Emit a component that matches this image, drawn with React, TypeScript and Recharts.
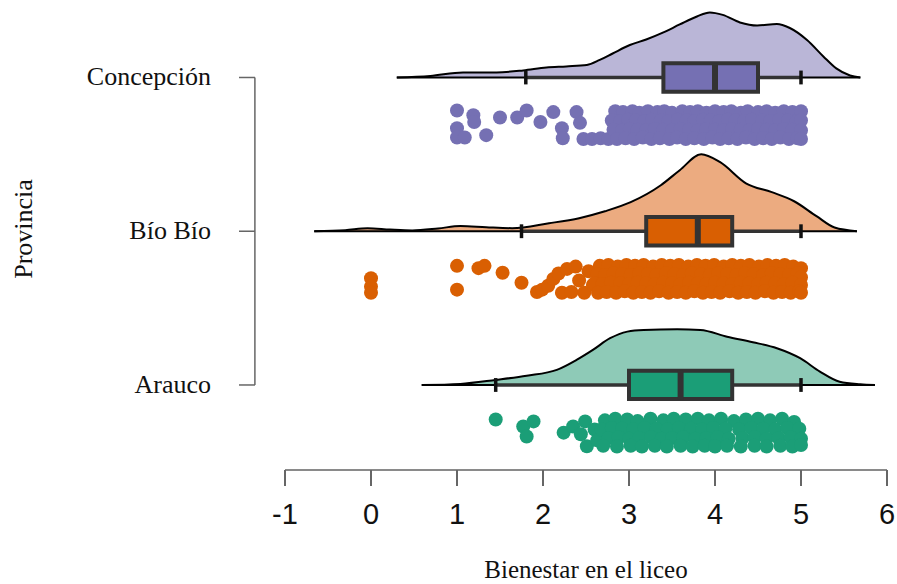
import {
  Area,
  ComposedChart,
  ReferenceArea,
  ReferenceLine,
  Scatter,
  XAxis,
  YAxis,
} from "recharts";

// y positions: Arauco = 1, Bío Bío = 2, Concepción = 3
const PROVINCES = ["Arauco", "Bío Bío", "Concepción"];
const X_TICKS = [-1, 0, 1, 2, 3, 4, 5, 6];

// half-violin outline: [bienestar, height above the group line]
const CONC_DENSITY = [
  [0.3, 0], [0.69, 0.01], [1.07, 0.033], [1.46, 0.033], [1.77, 0.046],
  [2.04, 0.065], [2.27, 0.072], [2.51, 0.081], [2.66, 0.114], [2.81, 0.156],
  [3.01, 0.211], [3.2, 0.247], [3.4, 0.293], [3.59, 0.345], [3.79, 0.397],
  [3.94, 0.423], [4.09, 0.407], [4.29, 0.358], [4.49, 0.338], [4.72, 0.348],
  [4.87, 0.322], [5.07, 0.244], [5.26, 0.137], [5.41, 0.059], [5.57, 0.013],
  [5.69, 0],
];
const BIOBIO_DENSITY = [
  [-0.66, 0], [-0.3, 0.007], [-0.04, 0.02], [0.22, 0.011], [0.48, 0.005],
  [0.78, 0.018], [1.04, 0.034], [1.34, 0.026], [1.64, 0.02], [2.07, 0.052],
  [2.42, 0.085], [2.72, 0.13], [3.02, 0.189], [3.37, 0.299], [3.59, 0.397],
  [3.84, 0.501], [4.06, 0.449], [4.36, 0.312], [4.66, 0.254], [4.92, 0.195],
  [5.18, 0.098], [5.39, 0.024], [5.65, 0],
];
const ARAUCO_DENSITY = [
  [0.59, 0], [1.04, 0.007], [1.45, 0.033], [1.81, 0.06], [2.16, 0.098],
  [2.39, 0.163], [2.58, 0.228], [2.78, 0.304], [2.98, 0.347], [3.17, 0.358],
  [3.56, 0.362], [3.83, 0.358], [4.14, 0.314], [4.44, 0.278], [4.72, 0.239],
  [4.99, 0.174], [5.22, 0.087], [5.45, 0.021], [5.69, 0.005], [5.86, 0],
];

// [low whisker, Q1, median, Q3, high whisker]
const CONC_BOX = [1.8, 3.4, 4.0, 4.5, 5.0];
const BIOBIO_BOX = [1.75, 3.2, 3.8, 4.2, 5.0];
const ARAUCO_BOX = [1.45, 3.0, 3.6, 4.2, 5.0];

// raw scores with their vertical jitter (positive = lower)
const CONC_POINTS = [
  [1.0, -0.095], [1.0, 0.02], [1.0, 0.08], [1.09, 0.08], [1.19, -0.065], [1.2, -0.02],
  [1.34, 0.065], [1.5, -0.05], [1.7, -0.05], [1.81, -0.095], [1.97, -0.02], [2.12, -0.085],
  [2.22, 0.02], [2.23, 0.085], [2.39, -0.085], [2.43, -0.015], [2.47, 0.09], [2.57, 0.09],
  [2.67, 0.085], [2.76, 0.09],
  [2.84, -0.09], [2.93, -0.085], [3.04, -0.09], [3.12, -0.08], [3.22, -0.09], [3.33, -0.085],
  [3.41, -0.09], [3.5, -0.08], [3.62, -0.09], [3.71, -0.085], [3.8, -0.09], [3.9, -0.08],
  [4.0, -0.09], [4.1, -0.085], [4.19, -0.09], [4.3, -0.08], [4.38, -0.09], [4.5, -0.085],
  [4.6, -0.09], [4.7, -0.08], [4.8, -0.09], [4.9, -0.085], [5.0, -0.09],
  [2.8, -0.03], [2.9, -0.025], [2.99, -0.035], [3.08, -0.03], [3.18, -0.025], [3.27, -0.035],
  [3.37, -0.03], [3.46, -0.025], [3.57, -0.035], [3.67, -0.03], [3.76, -0.025], [3.86, -0.035],
  [3.95, -0.03], [4.05, -0.025], [4.15, -0.035], [4.24, -0.03], [4.34, -0.025], [4.43, -0.035],
  [4.55, -0.03], [4.64, -0.025], [4.75, -0.035], [4.85, -0.03], [4.95, -0.025], [5.0, -0.03],
  [2.82, 0.03], [2.92, 0.035], [3.01, 0.025], [3.1, 0.03], [3.2, 0.035], [3.3, 0.025],
  [3.4, 0.03], [3.5, 0.035], [3.6, 0.025], [3.7, 0.03], [3.8, 0.035], [3.9, 0.025],
  [4.0, 0.03], [4.1, 0.035], [4.2, 0.025], [4.3, 0.03], [4.4, 0.035], [4.5, 0.025],
  [4.6, 0.03], [4.7, 0.035], [4.8, 0.025], [4.9, 0.03], [5.0, 0.035],
  [2.86, 0.09], [2.96, 0.085], [3.06, 0.09], [3.16, 0.08], [3.26, 0.09], [3.36, 0.085],
  [3.47, 0.09], [3.56, 0.08], [3.66, 0.09], [3.76, 0.085], [3.87, 0.09], [3.97, 0.08],
  [4.06, 0.09], [4.16, 0.085], [4.26, 0.09], [4.36, 0.08], [4.46, 0.09], [4.56, 0.085],
  [4.66, 0.09], [4.76, 0.08], [4.86, 0.09], [4.96, 0.085], [5.0, 0.09],
];
const BIOBIO_POINTS = [
  [0.0, -0.005], [0.0, 0.05], [0.0, 0.09], [1.0, -0.085], [1.0, 0.07], [1.25, -0.07],
  [1.32, -0.085], [1.53, -0.04], [1.75, 0.025], [1.93, 0.085], [1.99, 0.07], [2.06, 0.045],
  [2.12, 0.0], [2.18, -0.035], [2.22, 0.09], [2.28, -0.065], [2.33, 0.085], [2.38, -0.08],
  [2.42, 0.01], [2.48, 0.09], [2.53, -0.05], [2.58, 0.04],
  [2.66, -0.085], [2.76, -0.09], [2.87, -0.08], [2.97, -0.09], [3.07, -0.085], [3.17, -0.09],
  [3.28, -0.08], [3.38, -0.09], [3.48, -0.085], [3.58, -0.09], [3.69, -0.08], [3.79, -0.09],
  [3.89, -0.085], [3.99, -0.09], [4.1, -0.08], [4.2, -0.09], [4.3, -0.085], [4.4, -0.09],
  [4.51, -0.08], [4.61, -0.09], [4.71, -0.085], [4.81, -0.09], [4.91, -0.08], [5.0, -0.07],
  [2.63, -0.03], [2.72, -0.025], [2.82, -0.035], [2.92, -0.03], [3.02, -0.025], [3.12, -0.035],
  [3.22, -0.03], [3.32, -0.025], [3.43, -0.035], [3.53, -0.03], [3.63, -0.025], [3.73, -0.035],
  [3.84, -0.03], [3.94, -0.025], [4.04, -0.035], [4.14, -0.03], [4.25, -0.025], [4.35, -0.035],
  [4.45, -0.03], [4.56, -0.025], [4.66, -0.035], [4.76, -0.03], [4.86, -0.025], [4.96, -0.035],
  [5.0, -0.01],
  [2.6, 0.03], [2.69, 0.035], [2.79, 0.025], [2.9, 0.03], [3.0, 0.035], [3.1, 0.025],
  [3.2, 0.03], [3.3, 0.035], [3.4, 0.025], [3.5, 0.03], [3.6, 0.035], [3.7, 0.025],
  [3.8, 0.03], [3.9, 0.035], [4.0, 0.025], [4.1, 0.03], [4.2, 0.035], [4.3, 0.025],
  [4.4, 0.03], [4.5, 0.035], [4.6, 0.025], [4.7, 0.03], [4.8, 0.035], [4.9, 0.025], [5.0, 0.04],
  [2.64, 0.09], [2.74, 0.085], [2.85, 0.09], [2.95, 0.08], [3.05, 0.09], [3.15, 0.085],
  [3.25, 0.09], [3.35, 0.08], [3.46, 0.09], [3.56, 0.085], [3.66, 0.09], [3.76, 0.08],
  [3.86, 0.09], [3.96, 0.085], [4.06, 0.09], [4.17, 0.08], [4.27, 0.09], [4.37, 0.085],
  [4.47, 0.09], [4.58, 0.08], [4.68, 0.09], [4.78, 0.085], [4.88, 0.09], [4.98, 0.08], [5.0, 0.09],
];
const ARAUCO_POINTS = [
  [1.45, -0.085], [1.77, -0.04], [1.89, -0.073], [1.81, 0.025], [2.24, 0.0], [2.35, -0.04],
  [2.44, 0.01], [2.49, -0.073], [2.51, 0.089], [2.6, -0.02], [2.63, 0.05],
  [2.72, -0.08], [2.84, -0.09], [2.98, -0.085], [3.1, -0.075], [3.25, -0.09], [3.4, -0.08],
  [3.52, -0.09], [3.66, -0.085], [3.8, -0.09], [3.93, -0.08], [4.07, -0.09], [4.22, -0.075],
  [4.36, -0.085], [4.5, -0.09], [4.64, -0.08], [4.78, -0.09], [4.92, -0.07],
  [2.68, -0.02], [2.8, -0.03], [2.92, -0.025], [3.05, -0.02], [3.18, -0.03], [3.32, -0.025],
  [3.45, -0.02], [3.58, -0.03], [3.72, -0.025], [3.85, -0.02], [3.98, -0.03], [4.12, -0.025],
  [4.28, -0.02], [4.42, -0.03], [4.56, -0.025], [4.7, -0.02], [4.84, -0.03], [4.98, -0.025],
  [2.76, 0.035], [2.88, 0.03], [3.0, 0.04], [3.12, 0.035], [3.26, 0.03], [3.38, 0.04],
  [3.5, 0.035], [3.63, 0.03], [3.77, 0.04], [3.9, 0.035], [4.03, 0.03], [4.16, 0.04],
  [4.32, 0.035], [4.46, 0.03], [4.6, 0.04], [4.74, 0.035], [4.88, 0.03], [5.0, 0.04],
  [2.7, 0.085], [2.86, 0.09], [3.02, 0.085], [3.15, 0.09], [3.3, 0.085], [3.44, 0.09],
  [3.6, 0.085], [3.74, 0.09], [3.88, 0.085], [4.0, 0.09], [4.14, 0.085], [4.3, 0.09],
  [4.46, 0.085], [4.6, 0.09], [4.76, 0.085], [4.9, 0.09], [5.0, 0.08],
];

const GROUPS = [
  { pos: 3, density: CONC_DENSITY, box: CONC_BOX, points: CONC_POINTS, cloud: "#BAB6D7", color: "#7570B3" },
  { pos: 2, density: BIOBIO_DENSITY, box: BIOBIO_BOX, points: BIOBIO_POINTS, cloud: "#ECAB80", color: "#D95F02" },
  { pos: 1, density: ARAUCO_DENSITY, box: ARAUCO_BOX, points: ARAUCO_POINTS, cloud: "#8ECAB7", color: "#1B9E77" },
];

const RAIN_GAP = 0.31; // dots sit this far below the group line
const BOX_HALF = 0.092;
const CAP_HALF = 0.045;
const Y_AXIS_X = -1.35; // the province axis sits left of the value axis

const SERIF = "'Liberation Serif', 'Times New Roman', serif";
const SANS = "'Liberation Sans', Arial, sans-serif";

function ProvinceTick({ y, payload }: any) {
  return (
    <g>
      <line x1={239} x2={255} y1={y} y2={y} stroke="#666" strokeWidth={1.5} />
      <text x={211} y={y + 8} textAnchor="end" fontFamily={SERIF} fontSize={26} fill="#111">
        {PROVINCES[payload.value - 1]}
      </text>
    </g>
  );
}

export default function App() {
  return (
    <div style={{ position: "absolute", left: 0, top: 0, background: "#fff" }}>
      <ComposedChart width={897} height={584} margin={{ top: 0, right: 10, bottom: 0, left: 0 }}>
        <XAxis
          type="number"
          dataKey="x"
          domain={[-1, 6]}
          ticks={X_TICKS}
          allowDataOverflow
          height={114}
          tickSize={16}
          tickMargin={17}
          axisLine={{ stroke: "#8a8a8a", strokeWidth: 2 }}
          tickLine={{ stroke: "#666", strokeWidth: 2 }}
          tick={{ fontSize: 29, fontFamily: SANS, fill: "#111" }}
          label={{
            value: "Bienestar en el liceo",
            position: "insideBottom",
            offset: 6,
            fontSize: 25,
            fontFamily: SERIF,
            fill: "#111",
          }}
        />
        <YAxis
          type="number"
          domain={[0.447, 3.504]}
          ticks={[1, 2, 3]}
          allowDataOverflow
          width={285}
          axisLine={false}
          tickLine={false}
          tick={<ProvinceTick />}
        />
        <text
          x={32}
          y={229}
          transform="rotate(-90 32 229)"
          textAnchor="middle"
          fontFamily={SERIF}
          fontSize={26}
          fill="#111"
        >
          Provincia
        </text>
        <ReferenceLine
          segment={[{ x: Y_AXIS_X, y: 1 }, { x: Y_AXIS_X, y: 3 }]}
          stroke="#666"
          strokeWidth={1.5}
          ifOverflow="visible"
        />
        {GROUPS.map((g) => (
          <Area
            key={"cloud" + g.pos}
            data={g.density.map(([x, h]) => ({ x, band: [g.pos, g.pos + h] }))}
            dataKey="band"
            type="monotone"
            fill={g.cloud}
            fillOpacity={1}
            stroke="#000"
            strokeWidth={2}
            dot={false}
            activeDot={false}
            isAnimationActive={false}
          />
        ))}
        {GROUPS.map((g) => (
          <Scatter
            key={"rain" + g.pos}
            data={g.points.map(([x, j]) => ({ x, y: g.pos - RAIN_GAP - j }))}
            dataKey="y"
            isAnimationActive={false}
            shape={(p: any) => <circle cx={p.cx} cy={p.cy} r={7} fill={g.color} />}
          />
        ))}
        {GROUPS.map((g) => {
          const [lo, q1, med, q3, hi] = g.box;
          return [
            <ReferenceLine key={"wl" + g.pos} segment={[{ x: lo, y: g.pos }, { x: q1, y: g.pos }]} stroke="#333" strokeWidth={3.5} />,
            <ReferenceLine key={"wh" + g.pos} segment={[{ x: q3, y: g.pos }, { x: hi, y: g.pos }]} stroke="#333" strokeWidth={3.5} />,
            <ReferenceLine key={"cl" + g.pos} segment={[{ x: lo, y: g.pos - CAP_HALF }, { x: lo, y: g.pos + CAP_HALF }]} stroke="#111" strokeWidth={3.5} />,
            <ReferenceLine key={"ch" + g.pos} segment={[{ x: hi, y: g.pos - CAP_HALF }, { x: hi, y: g.pos + CAP_HALF }]} stroke="#111" strokeWidth={3.5} />,
            <ReferenceArea
              key={"box" + g.pos}
              x1={q1}
              x2={q3}
              y1={g.pos - BOX_HALF}
              y2={g.pos + BOX_HALF}
              fill={g.color}
              fillOpacity={1}
              stroke="#333"
              strokeWidth={4}
            />,
            <ReferenceLine key={"md" + g.pos} segment={[{ x: med, y: g.pos - BOX_HALF }, { x: med, y: g.pos + BOX_HALF }]} stroke="#333" strokeWidth={6} />,
          ];
        })}
      </ComposedChart>
    </div>
  );
}
